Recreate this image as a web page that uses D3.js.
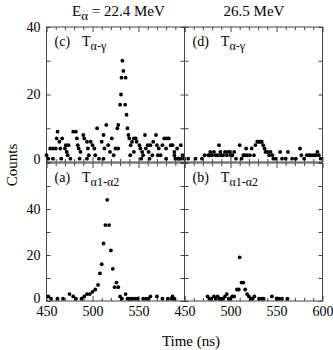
<!DOCTYPE html>
<html><head>
<meta charset="utf-8">
<script src="https://d3js.org/d3.v7.min.js"></script>
<style>
  body { margin: 0; background: #fff; }
  svg text { font-family: "Liberation Serif", "Times New Roman", Times, serif !important; fill: #000; }
</style>
</head>
<body>
<svg id="chart" width="333" height="350"></svg>
<script>

// Data: [time (ns), counts]
const panelA = [[452,2],[455,1],[462,1],[468,1],[475,3],[479,2],[482,1],[488,1],[491,2],[494,3],[497,3],[500,4],
  [503,5],[506,7],[508,12],[510,16],[512,25],[514,33],[516,44],[518,33],[520,22],[522,14],[524,6],[526,8],[528,6],
  [530,2],[532,1],[536,3],[538,1],[540,1],[543,1],[546,1],[549,1],[555,1],[558,1],[561,1],[563,2],[570,2],[576,1],
  [582,1],[586,1],[587,2],[589,1]];

const panelB = [[475,2],[477,1],[479,1],[482,2],[484,1],[486,2],[488,1],[490,1],[492,1],[494,2],[496,3],[498,1],
  [500,1],[502,2],[504,2],[507,5],[509,5],[510,19],[512,8],[514,8],[516,5],[518,3],[520,2],[522,1],[524,1],[526,2],
  [531,1],[534,1],[536,1],[545,2],[550,1],[553,1],[556,1],[562,1]];

const panelC = [[450,2],[452,1],[454,4],[457,4],[457,1],[460,4],[461,7],[462,9],[464,6],[465,4],[466,1],[467,7],
  [470,4],[471,5],[472,3],[473,2],[474,5],[476,1],[479,9],[482,9],[483,7],[484,5],[485,4],[486,1],[487,3],[490,8],
  [491,7],[494,6],[494,1],[495,4],[496,2],[498,6],[500,5],[502,4],[503,2],[505,10],[507,1],[510,6],[512,8],[512,1],
  [513,4],[515,11],[517,5],[519,3],[521,7],[523,2],[525,4],[527,10],[528,11],[528,4],[530,17],[531,20],[531.5,25],
  [532.5,30],[533.5,27],[535.5,17],[536,25],[537,14],[538,10],[539,8],[540,7],[541,2],[541.5,5],[543,6],[545,7],
  [545,3],[547,7],[548,6],[551,5],[552,4],[553,1],[554,3],[555,2],[557,8],[558,4],[560,5],[561,3],[562,1],[563,5],
  [565,2],[566,6],[569,8],[570,5],[571,2],[572,4],[574,2],[576,5],[578,7],[580,4],[580,1],[581,7],[583,7],[585,5],
  [587,5],[589,2],[589,3],[590,1],[592,4],[593,1],[594,1],[596,5],[596,1],[598,2],[599.5,1]];

const panelD = [[454,1],[462,1],[469,1],[472,2],[476,2],[478,3],[479,2],[480,2],[482,3],[484,2],[486,2],[487.5,5],
  [489,3],[489.5,2],[492,2],[494,3],[496,2],[497,3],[499.5,3],[500,2],[502,2],[504,3],[506,1],[510,5],[512,1],[514,2],
  [515.5,2],[517,4],[518,2],[521,2],[523,4],[525.5,2],[527,5],[529,6],[530,6],[531.5,6],[533,6],[534,6],[535.5,5],
  [537,4],[538,3],[540,3],[542,2],[543.5,3],[545.5,2],[546.5,1],[549,1],[554,3],[556,1],[560,1],[562.5,3],[567,1],
  [571,1],[575.5,4],[577,2],[580,1],[583,2],[585.5,2],[587,2],[590,2],[592.5,2],[594.5,3],[596,2],[598,1]];

const xTicks = [450, 500, 550, 600];
const yTicks = [0, 20, 40];

const serif = "Liberation Serif, Times New Roman, Times, serif";
const svg = d3.select("#chart");

// panel geometry
const xL = d3.scaleLinear().domain([450, 600]).range([46.5, 184.5]);
const xR = d3.scaleLinear().domain([450, 600]).range([184.5, 322.5]);
const yTop = d3.scaleLinear().domain([0, 40]).range([162, 27]);
const yBot = d3.scaleLinear().domain([0, 60]).range([301, 163]);

const panels = [
  { id: "(c)", sub: "α-γ", data: panelC, x: xL, y: yTop },
  { id: "(d)", sub: "α-γ", data: panelD, x: xR, y: yTop },
  { id: "(a)", sub: "α1-α2", data: panelA, x: xL, y: yBot },
  { id: "(b)", sub: "α1-α2", data: panelB, x: xR, y: yBot }
];

const frameColor = "#444";

panels.forEach(p => {
  const g = svg.append("g");
  const [x0, x1] = p.x.range();
  const [y0, y1] = p.y.range();
  const xt = d3.range(450, 601, 10);
  const yt = d3.range(p.y.domain()[0], p.y.domain()[1] + 0.1, 10);
  const clean = s => { s.select(".domain").remove(); s.selectAll(".tick line").attr("stroke", frameColor); };

  // inward ticks on all four sides
  g.append("g").attr("transform", `translate(0,${y0})`)
    .call(d3.axisTop(p.x).tickValues(xt).tickSize(3).tickFormat("")).call(clean)
    .selectAll(".tick line").attr("y2", d => d % 50 === 0 ? -5 : -3);
  g.append("g").attr("transform", `translate(0,${y1})`)
    .call(d3.axisBottom(p.x).tickValues(xt).tickSize(3).tickFormat("")).call(clean)
    .selectAll(".tick line").attr("y2", d => d % 50 === 0 ? 5 : 3);
  g.append("g").attr("transform", `translate(${x0},0)`)
    .call(d3.axisRight(p.y).tickValues(yt).tickSize(4).tickFormat("")).call(clean);
  g.append("g").attr("transform", `translate(${x1},0)`)
    .call(d3.axisLeft(p.y).tickValues(yt).tickSize(4).tickFormat("")).call(clean);

  g.append("rect")
    .attr("x", x0).attr("y", y1)
    .attr("width", x1 - x0).attr("height", y0 - y1)
    .attr("fill", "none").attr("stroke", frameColor).attr("stroke-width", 1);

  g.selectAll("circle").data(p.data).join("circle")
    .attr("cx", d => p.x(d[0]))
    .attr("cy", d => p.y(d[1]))
    .attr("r", 1.9)
    .attr("fill", "#000");

  // panel label
  const lbl = g.append("text")
    .attr("x", x0 + 8).attr("y", y1 + 19)
    .attr("font-family", serif)
    .style("font-size", "14px");
  lbl.append("tspan").text(p.id);
  lbl.append("tspan").attr("dx", 12).text("T");
  lbl.append("tspan").attr("dy", 4).style("font-size", "12px").text(p.sub);
});

// tick labels
const labelStyle = s => {
  s.attr("font-family", serif).attr("font-size", 14);
  s.select(".domain").remove();
};

[yTop, yBot].forEach(y => {
  const a = svg.append("g").attr("transform", `translate(46.5,0)`)
    .call(d3.axisLeft(y).tickValues(yTicks).tickSize(0).tickPadding(6)).call(labelStyle);
  a.selectAll(".tick text").attr("dy", d => d === 0 ? "0.1em" : "0.32em");
});

svg.append("g").attr("transform", `translate(0,301)`)
  .call(d3.axisBottom(xL).tickValues(xTicks.slice(0, 3)).tickSize(0).tickPadding(5)).call(labelStyle);
svg.append("g").attr("transform", `translate(0,301)`)
  .call(d3.axisBottom(xR).tickValues(xTicks).tickSize(0).tickPadding(5)).call(labelStyle);

// titles
svg.append("text")
  .attr("x", 191).attr("y", 346)
  .attr("text-anchor", "middle")
  .attr("font-family", serif)
  .style("font-size", "15px")
  .text("Time (ns)");

svg.append("text")
  .attr("transform", "translate(17,165) rotate(-90)")
  .attr("text-anchor", "middle")
  .attr("font-family", serif)
  .style("font-size", "15px")
  .text("Counts");

const head = svg.append("text")
  .attr("x", 72).attr("y", 16)
  .attr("font-family", serif)
  .style("font-size", "15px");
head.append("tspan").text("E");
head.append("tspan").attr("dy", 4).style("font-size", "13px").text("α");
head.append("tspan").attr("dy", -4).text(" = 22.4 MeV");

svg.append("text")
  .attr("x", 254).attr("y", 16)
  .attr("text-anchor", "middle")
  .attr("font-family", serif)
  .style("font-size", "15px")
  .text("26.5 MeV");

</script>
</body>
</html>
